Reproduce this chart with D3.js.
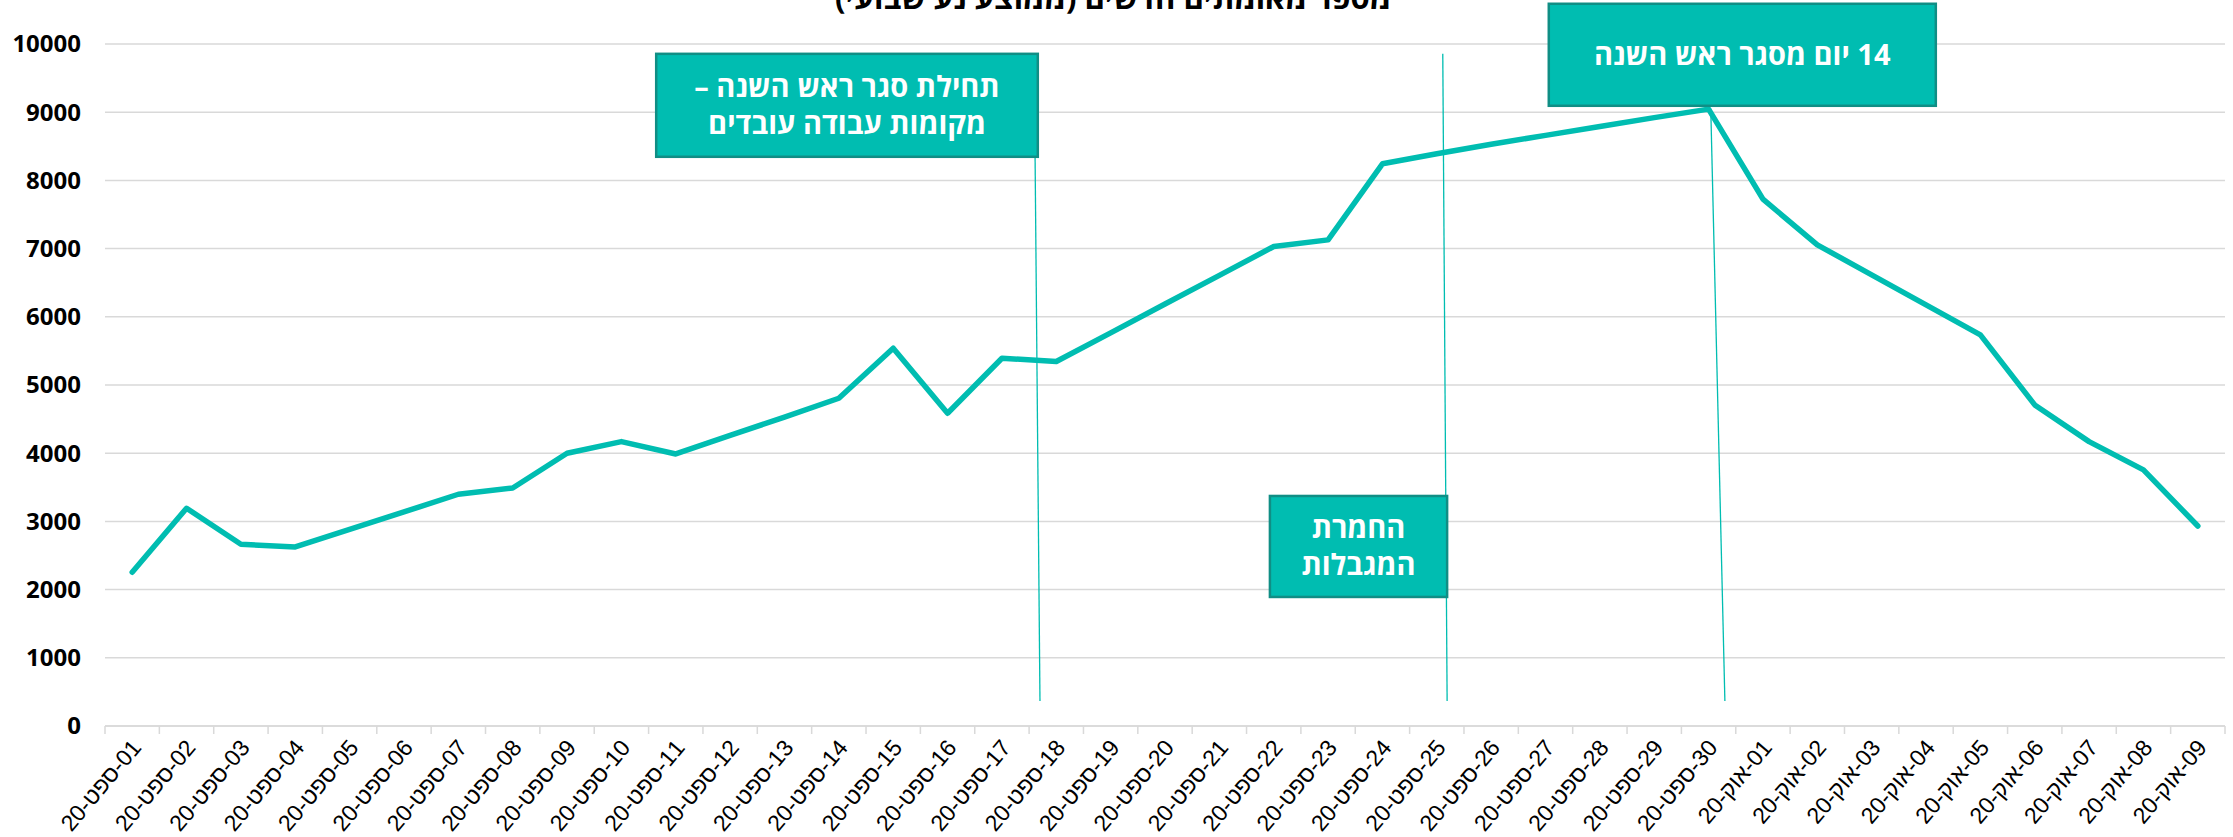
<!DOCTYPE html>
<html>
<head>
<meta charset="utf-8">
<script src="https://cdn.jsdelivr.net/npm/d3@7"></script>
<style>
  body { margin: 0; background: #fff; }
  svg { display: block; font-family: "Open Sans", "Liberation Sans", sans-serif; }
</style>
</head>
<body>
<div id="chart"></div>
<script>
// dates as in the sheet (dd-mmm-yy)
const days = [
  "01-ספט-20","02-ספט-20","03-ספט-20","04-ספט-20","05-ספט-20","06-ספט-20","07-ספט-20","08-ספט-20",
  "09-ספט-20","10-ספט-20","11-ספט-20","12-ספט-20","13-ספט-20","14-ספט-20","15-ספט-20","16-ספט-20",
  "17-ספט-20","18-ספט-20","19-ספט-20","20-ספט-20","21-ספט-20","22-ספט-20","23-ספט-20","24-ספט-20",
  "25-ספט-20","26-ספט-20","27-ספט-20","28-ספט-20","29-ספט-20","30-ספט-20",
  "01-אוק-20","02-אוק-20","03-אוק-20","04-אוק-20","05-אוק-20","06-אוק-20","07-אוק-20","08-אוק-20","09-אוק-20"
];
const cases = [
  2254, 3193, 2665, 2625, 2882, 3139, 3398, 3490, 4000, 4170,
  3989, 4260, 4530, 4806, 5540, 4586, 5393, 5344, 5765, 6187,
  6608, 7030, 7128, 8243, 8390, 8530, 8660, 8790, 8920, 9045,
  7725, 7055, 6615, 6175, 5735, 4708, 4170, 3755, 2933
];
const yTicks = [0, 1000, 2000, 3000, 4000, 5000, 6000, 7000, 8000, 9000, 10000];
const title = "מספר מאומתים חדשים (ממוצע נע שבועי)";

// callouts: position in day units (day i centre = i + 0.5), heights in chart values
const notes = [
  { lines: ["תחילת סגר ראש השנה –", "מקומות עבודה עובדים"], x0: 10.14, x1: 17.16, top: 9856, bottom: 8346,
    stem: [[17.11, 8346], [17.20, 367]] },
  { lines: ["החמרת", "המגבלות"], x0: 21.43, x1: 24.69, top: 3373, bottom: 1892,
    stem: [[24.61, 9856], [24.69, 367]] },
  { lines: ["14 יום מסגר ראש השנה"], x0: 26.56, x1: 33.68, top: 10590, bottom: 9094,
    stem: [[29.54, 9050], [29.80, 367]] }
];

const width = 2233,
      height = 837,
      margin = ({ top: 44, right: 8, bottom: 111, left: 105 });

const teal = "#00bdb1",
      tealDark = "#108e85",
      grid = "#d9d9d9";

const svg = d3.select("#chart")
  .append("svg")
  .attr("width", width)
  .attr("height", height);

const x = d3.scaleBand()
  .domain(days)
  .range([margin.left, width - margin.right]);

const dayPos = d3.scaleLinear()
  .domain([0, days.length])
  .range([margin.left, width - margin.right]);

const y = d3.scaleLinear()
  .domain([0, 10000])
  .range([height - margin.bottom, margin.top]);

// title (cut by the top edge, as in the original)
svg.append("text")
  .attr("x", 1113)
  .attr("y", 9)
  .attr("text-anchor", "middle")
  .attr("direction", "rtl")
  .attr("font-size", 31)
  .attr("font-weight", "bold")
  .attr("fill", "#000")
  .text(title);

// grid lines
svg.append("g")
  .selectAll("line")
  .data(yTicks)
  .join("line")
  .attr("x1", margin.left)
  .attr("x2", width - margin.right)
  .attr("y1", d => y(d))
  .attr("y2", d => y(d))
  .attr("stroke", grid)
  .attr("stroke-width", 1.5);

// y labels
svg.append("g")
  .selectAll("text")
  .data(yTicks)
  .join("text")
  .attr("x", margin.left - 24)
  .attr("y", d => y(d))
  .attr("dy", "0.35em")
  .attr("text-anchor", "end")
  .attr("font-size", 24)
  .attr("font-weight", "bold")
  .attr("fill", "#000")
  .text(d => d);

// x axis with ticks between the days
const xAxis = svg.append("g")
  .attr("transform", `translate(0,${y(0)})`);

xAxis.append("line")
  .attr("x1", margin.left)
  .attr("x2", width - margin.right)
  .attr("stroke", grid)
  .attr("stroke-width", 1.5);

xAxis.selectAll(".tk")
  .data(d3.range(days.length + 1))
  .join("line")
  .attr("class", "tk")
  .attr("x1", d => dayPos(d))
  .attr("x2", d => dayPos(d))
  .attr("y1", 0)
  .attr("y2", 8)
  .attr("stroke", grid)
  .attr("stroke-width", 1.5);

// RLM in front so the date shows as 20-ספט-01
xAxis.selectAll(".lbl")
  .data(days)
  .join("text")
  .attr("class", "lbl")
  .attr("transform", d => `translate(${x(d) + x.bandwidth() / 2 + 4},17) rotate(-50)`)
  .attr("text-anchor", "end")
  .attr("dy", "0.35em")
  .attr("font-family", "Liberation Sans, Arial, sans-serif")
  .attr("font-size", 23)
  .attr("fill", "#000")
  .text(d => "\u200F" + d);

// the series
const line = d3.line()
  .x((d, i) => x(days[i]) + x.bandwidth() / 2)
  .y(d => y(d));

svg.append("path")
  .datum(cases)
  .attr("fill", "none")
  .attr("stroke", teal)
  .attr("stroke-width", 5.5)
  .attr("stroke-linejoin", "round")
  .attr("stroke-linecap", "round")
  .attr("d", line);

// callout stems
svg.append("g")
  .selectAll("line")
  .data(notes)
  .join("line")
  .attr("x1", d => dayPos(d.stem[0][0]))
  .attr("y1", d => y(d.stem[0][1]))
  .attr("x2", d => dayPos(d.stem[1][0]))
  .attr("y2", d => y(d.stem[1][1]))
  .attr("stroke", teal)
  .attr("stroke-width", 1.3);

// callout boxes
const box = svg.append("g")
  .selectAll("g")
  .data(notes)
  .join("g");

box.append("rect")
  .attr("x", d => dayPos(d.x0))
  .attr("y", d => y(d.top))
  .attr("width", d => dayPos(d.x1) - dayPos(d.x0))
  .attr("height", d => y(d.bottom) - y(d.top))
  .attr("fill", teal)
  .attr("stroke", tealDark)
  .attr("stroke-width", 2.5);

box.append("text")
  .attr("x", d => (dayPos(d.x0) + dayPos(d.x1)) / 2)
  .attr("y", d => (y(d.top) + y(d.bottom)) / 2)
  .attr("text-anchor", "middle")
  .attr("direction", "rtl")
  .attr("font-size", 29)
  .attr("font-weight", "bold")
  .attr("fill", "#fff")
  .selectAll("tspan")
  .data(d => d.lines.map((t, i) => ({ t, i, n: d.lines.length })))
  .join("tspan")
  .attr("x", function () { return d3.select(this.parentNode).attr("x"); })
  .attr("dy", d => d.i === 0 ? `${0.35 - (d.n - 1) * 0.65}em` : "1.3em")
  .text(d => d.t);
</script>
</body>
</html>
